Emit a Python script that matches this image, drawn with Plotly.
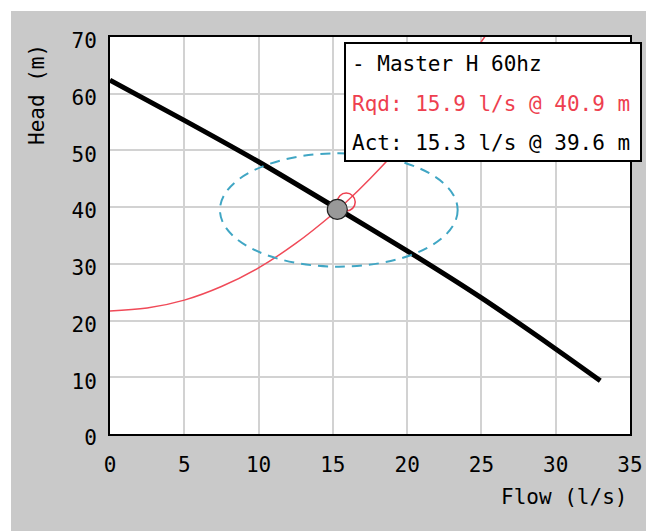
import plotly.graph_objects as go

# ---- data ----
pump_q = [0, 5, 10, 15, 20, 25, 30, 33]
pump_h = [62.4, 55.3, 48.0, 40.2, 32.3, 24.0, 15.0, 9.4]

sys_q = [0, 2.5, 5, 7.5, 10, 12.5, 15, 15.9, 17.5, 20, 22.5, 25, 26]
sys_h = [21.7, 22.2, 23.6, 26.0, 29.3, 33.6, 38.8, 40.9, 45.0, 52.1, 60.2, 69.2, 73.1]

rqd_q, rqd_h = 15.9, 40.9
act_q, act_h = 15.3, 39.6

ell_center = (15.4, 39.5)
ell_radius = (8.0, 10.0)

x_ticks = [0, 5, 10, 15, 20, 25, 30, 35]
y_ticks = [0, 10, 20, 30, 40, 50, 60, 70]

legend_lines = ["- Master H 60hz", "Rqd: 15.9 l/s @ 40.9 m", "Act: 15.3 l/s @ 39.6 m"]
legend_colors = ["#000000", "#ee3f4f", "#000000"]

FONT = "DejaVu Sans Mono"
RED = "#ee3f4f"
W, H = 646, 531
ML, MR, MT, MB = 110, 16, 37, 97
PW, PH = W - ML - MR, H - MT - MB


def px(xp):
    return (xp - ML) / PW


def py(yp):
    return (MT + PH - yp) / PH


fig = go.Figure()

fig.add_trace(go.Scatter(x=sys_q, y=sys_h, mode="lines",
                         line=dict(color="#f04a58", width=1.5, shape="spline"),
                         hoverinfo="skip", showlegend=False))
fig.add_trace(go.Scatter(x=pump_q, y=pump_h, mode="lines",
                         line=dict(color="black", width=5, shape="spline", smoothing=0.6),
                         hoverinfo="skip", showlegend=False))
fig.add_trace(go.Scatter(x=[rqd_q], y=[rqd_h], mode="markers",
                         marker=dict(size=18, color="rgba(0,0,0,0)",
                                     line=dict(color=RED, width=1.5)),
                         hoverinfo="skip", showlegend=False))
fig.add_trace(go.Scatter(x=[act_q], y=[act_h], mode="markers",
                         marker=dict(size=20, color="#999999",
                                     line=dict(color="#222222", width=1.2)),
                         hoverinfo="skip", showlegend=False))

shapes = []
# dashed ellipse around operating point
shapes.append(dict(type="circle", xref="x", yref="y",
                   x0=ell_center[0] - ell_radius[0], x1=ell_center[0] + ell_radius[0],
                   y0=ell_center[1] - ell_radius[1], y1=ell_center[1] + ell_radius[1],
                   line=dict(color="#40a6c4", width=2, dash="10px,7px"), layer="above"))
# white strips on top / left of the gray canvas
shapes.append(dict(type="rect", xref="paper", yref="paper",
                   x0=px(-2), x1=px(W + 2), y0=py(11), y1=py(-2),
                   fillcolor="white", line=dict(width=0), layer="below"))
shapes.append(dict(type="rect", xref="paper", yref="paper",
                   x0=px(-2), x1=px(11), y0=py(H + 2), y1=py(-2),
                   fillcolor="white", line=dict(width=0), layer="below"))
# legend box
shapes.append(dict(type="rect", xref="paper", yref="paper",
                   x0=px(345), x1=px(641), y0=py(161), y1=py(43),
                   fillcolor="white", line=dict(color="black", width=2), layer="above"))

annotations = []
for i, (txt, col) in enumerate(zip(legend_lines, legend_colors)):
    annotations.append(dict(xref="paper", yref="paper", x=px(350), y=py([64, 104, 143][i]),
                            xanchor="left", yanchor="middle", showarrow=False,
                            text=txt, font=dict(family=FONT, size=21, color=col)))
annotations.append(dict(xref="paper", yref="paper", x=px(629), y=py(497),
                        xanchor="right", yanchor="middle", showarrow=False,
                        text="Flow (l/s)", font=dict(family=FONT, size=21, color="black")))
annotations.append(dict(xref="paper", yref="paper", x=px(37), y=py(95),
                        xanchor="center", yanchor="middle", showarrow=False, textangle=-90,
                        text="Head (m)", font=dict(family=FONT, size=21, color="black")))

axis_common = dict(showgrid=True, gridcolor="#d2d2d2", gridwidth=2, automargin=False,
                   showline=True, linecolor="black", linewidth=2, mirror=True,
                   zeroline=False, ticks="", tickfont=dict(family=FONT, size=21, color="black"))

fig.update_layout(
    width=W, height=H, autosize=False,
    margin=dict(l=ML, r=MR, t=MT, b=MB, pad=0),
    paper_bgcolor="#c9c9c9", plot_bgcolor="white",
    xaxis=dict(range=[0, 35], tickvals=x_ticks, ticktext=[str(v) for v in x_ticks],
               ticklabelstandoff=11, **axis_common),
    yaxis=dict(range=[0, 70], tickvals=y_ticks, ticktext=[str(v) for v in y_ticks],
               ticklabelstandoff=7, ticklabelshift=4, **axis_common),
    shapes=shapes, annotations=annotations, showlegend=False,
)

fig.write_html(
    "out.html",
    config={"displayModeBar": False, "responsive": False},
    post_script="document.body.style.margin='0';document.body.style.overflow='hidden';",
)
